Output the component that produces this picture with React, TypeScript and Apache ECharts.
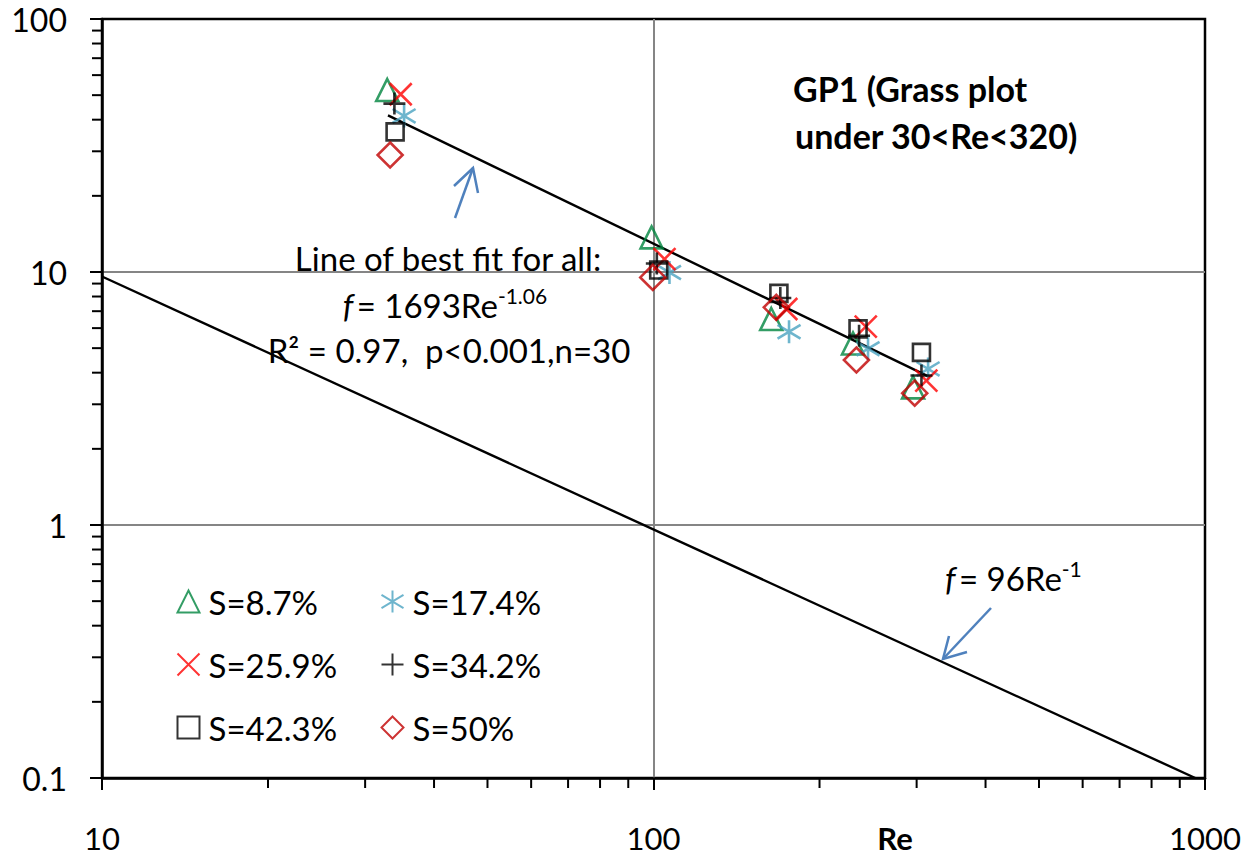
import React, { useEffect, useRef } from 'react';
import * as echarts from 'echarts';

// Series values: [Re, f]
const S87 = [[32.9, 52.4], [99.2, 13.7], [163.5, 6.52], [230, 5.22], [295.6, 3.5]];
const S174 = [[35.3, 41.4], [106.9, 9.96], [176.1, 5.81], [244.9, 4.97], [314.7, 4.14]];
const S259 = [[34.8, 50.4], [104.7, 11.25], [174.1, 7.14], [242.6, 6.08], [312.4, 3.72]];
const S342 = [[33.9, 46.3], [101.4, 10.8], [169.8, 7.89], [235.9, 5.6], [306.1, 3.9]];
const S423 = [[34.0, 35.8], [102.2, 10.18], [168.8, 8.23], [234.9, 5.96], [306.1, 4.81]];
const S50 = [[33.3, 29.0], [99.7, 9.52], [167, 7.25], [233.3, 4.49], [297.6, 3.32]];

// Line end points
const FIT_ALL = [[33, 41.6], [317, 3.84]];
const FIT_96 = [[10, 9.6], [960, 0.1]];

// Axis ranges and minor tick positions
const X_MIN = 10, X_MAX = 1000, Y_MIN = 0.1, Y_MAX = 100;
const X_MINOR = [20, 30, 40, 50, 60, 70, 80, 90, 200, 300, 400, 500, 600, 700, 800, 900];
const Y_MINOR = [0.2, 0.3, 0.4, 0.5, 0.6, 0.7, 0.8, 0.9, 2, 3, 4, 5, 6, 7, 8, 9, 20, 30, 40, 50, 60, 70, 80, 90];

const NAMES = ['S=8.7%', 'S=17.4%', 'S=25.9%', 'S=34.2%', 'S=42.3%', 'S=50%'];

const FONT = 'Lato, "Open Sans", sans-serif';

const X_PATH = 'path://M0,0L20,20M20,0L0,20';
const PLUS_PATH = 'path://M10,0L10,20M0,10L20,10';
const STAR_PATH = 'path://M10,0L10,20M0,4L20,16M0,16L20,4';

const fmt = (v: number) => String(Number(v.toPrecision(3)));

function scatter(name: string, data: number[][], symbol: string, color: string, size: number) {
  return {
    type: 'scatter',
    name,
    data,
    symbol,
    symbolSize: size,
    itemStyle: { color: 'none', borderColor: color, borderWidth: 2.6 },
    z: 5,
  };
}

export default function App() {
  const ref = useRef<HTMLDivElement>(null);
  useEffect(() => {
    const chart = echarts.init(ref.current!, null, { renderer: 'svg' });
    const sup = { fontFamily: FONT, fontSize: 21, verticalAlign: 'top', lineHeight: 40, color: '#000' };
    const base = { fontFamily: FONT, fontSize: 33, lineHeight: 40, color: '#000' };
    const ital = { fontFamily: FONT, fontSize: 33, fontStyle: 'italic', lineHeight: 40, color: '#000' };
    const legendCommon = {
      orient: 'vertical',
      top: 580,
      itemGap: 30,
      itemWidth: 22,
      itemHeight: 22,
      selectedMode: false,
      textStyle: { fontFamily: FONT, fontSize: 33, color: '#000', padding: [0, 0, 0, 4] },
    };
    chart.setOption({
      animation: false,
      backgroundColor: '#fff',
      grid: {
        left: 102, right: 40, top: 19, bottom: 79,
        show: true, borderColor: '#000', borderWidth: 2.5, backgroundColor: 'transparent',
      },
      xAxis: {
        type: 'log', logBase: 10, min: X_MIN, max: X_MAX,
        axisLine: { show: true, lineStyle: { color: '#000', width: 2.5 } },
        axisTick: { show: true, inside: false, length: 12, lineStyle: { color: '#000', width: 2 } },
        axisLabel: { fontFamily: FONT, fontSize: 31, lineHeight: 31, color: '#000', margin: 44, formatter: fmt },
        splitLine: { show: true, showMinLine: false, showMaxLine: false, lineStyle: { color: '#858585', width: 2 } },
        minorTick: { show: false },
      },
      yAxis: {
        type: 'log', logBase: 10, min: Y_MIN, max: Y_MAX,
        axisLine: { show: true, lineStyle: { color: '#000', width: 2.5 } },
        axisTick: { show: true, inside: false, length: 12, lineStyle: { color: '#000', width: 2 } },
        axisLabel: { fontFamily: FONT, fontSize: 32, color: '#000', margin: 35, formatter: fmt },
        splitLine: { show: true, showMinLine: false, showMaxLine: false, lineStyle: { color: '#858585', width: 2 } },
        minorTick: { show: false },
      },
      legend: [
        { ...legendCommon, left: 170, data: [NAMES[0], NAMES[2], NAMES[4]] },
        { ...legendCommon, left: 374, data: [NAMES[1], NAMES[3], NAMES[5]] },
      ],
      series: [
        {
          type: 'line', data: FIT_96, showSymbol: false, symbol: 'none',
          lineStyle: { color: '#000', width: 2.4 }, z: 3, silent: true,
        },
        {
          type: 'line', data: FIT_ALL, showSymbol: false, symbol: 'none',
          lineStyle: { color: '#000', width: 2.4 }, z: 3, silent: true,
        },
        scatter(NAMES[0], S87, 'triangle', '#00853e', 22),
        scatter(NAMES[1], S174, STAR_PATH, '#4aa3c0', 23),
        scatter(NAMES[2], S259, X_PATH, '#ff0000', 22),
        scatter(NAMES[3], S342, PLUS_PATH, '#000000', 22),
        scatter(NAMES[4], S423, 'rect', '#000000', 17),
        scatter(NAMES[5], S50, 'diamond', '#c00000', 25),
        {
          type: 'custom', coordinateSystem: 'cartesian2d', clip: false, silent: true,
          data: X_MINOR.map((v) => [v, Y_MIN]),
          renderItem: (params: any, api: any) => {
            const p = api.coord([api.value(0), api.value(1)]);
            return { type: 'line', shape: { x1: p[0], y1: p[1], x2: p[0], y2: p[1] + 10 }, style: { stroke: '#000', lineWidth: 2 } };
          },
        },
        {
          type: 'custom', coordinateSystem: 'cartesian2d', clip: false, silent: true,
          data: Y_MINOR.map((v) => [X_MIN, v]),
          renderItem: (params: any, api: any) => {
            const p = api.coord([api.value(0), api.value(1)]);
            return { type: 'line', shape: { x1: p[0] - 10, y1: p[1], x2: p[0], y2: p[1] }, style: { stroke: '#000', lineWidth: 2 } };
          },
        },
      ],
      graphic: [
        { type: 'text', x: 793, y: 88, style: { text: 'GP1 (Grass plot', font: `bold 34px ${FONT}`, fill: '#000', verticalAlign: 'middle' } },
        { type: 'text', x: 795, y: 135, style: { text: 'under 30<Re<320)', font: `bold 34px ${FONT}`, fill: '#000', verticalAlign: 'middle' } },
        { type: 'text', x: 448, y: 258, style: { text: 'Line of best fit for all:', font: `33px ${FONT}`, fill: '#000', align: 'center', verticalAlign: 'middle' } },
        {
          type: 'text', x: 445, y: 305,
          style: { text: '{i|f} {b|= 1693Re}{s|-1.06}', rich: { i: ital, b: base, s: sup }, align: 'center', verticalAlign: 'middle' },
        },
        {
          type: 'text', x: 449, y: 350,
          style: { text: 'R² = 0.97,  p<0.001,n=30', font: `33px ${FONT}`, fill: '#000', align: 'center', verticalAlign: 'middle' },
        },
        {
          type: 'text', x: 945, y: 578,
          style: { text: '{i|f} {b|= 96Re}{s|-1}', rich: { i: ital, b: base, s: sup }, align: 'left', verticalAlign: 'middle' },
        },
        { type: 'text', x: 895, y: 838, style: { text: 'Re', font: `bold 31px ${FONT}`, fill: '#000', align: 'center', verticalAlign: 'middle' } },
        { type: 'line', shape: { x1: 455, y1: 218, x2: 473, y2: 168 }, style: { stroke: '#4f81bd', lineWidth: 2.5 } },
        { type: 'polyline', shape: { points: [[454, 186], [473, 168], [478, 193]] }, style: { stroke: '#4f81bd', lineWidth: 2.5, fill: 'none' } },
        { type: 'line', shape: { x1: 991, y1: 608, x2: 943, y2: 659 }, style: { stroke: '#4f81bd', lineWidth: 2.5 } },
        { type: 'polyline', shape: { points: [[949, 636], [943, 659], [967, 652]] }, style: { stroke: '#4f81bd', lineWidth: 2.5, fill: 'none' } },
      ],
    });
    return () => chart.dispose();
  }, []);
  return (
    <div
      ref={ref}
      style={{ position: 'absolute', left: 0, top: 0, width: 1245, height: 857, background: '#fff' }}
    />
  );
}
